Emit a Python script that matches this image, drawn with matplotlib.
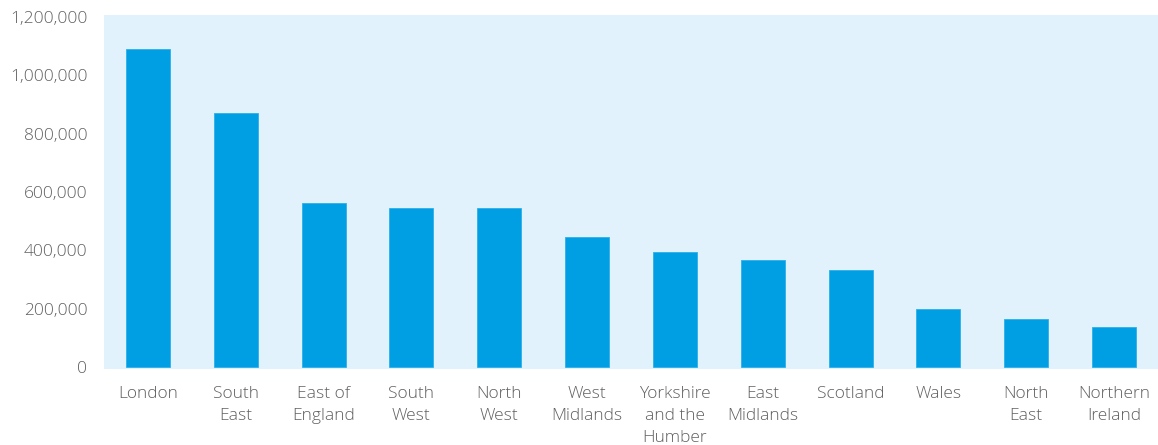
import matplotlib.pyplot as plt
from matplotlib.ticker import FuncFormatter

regions = ['London', 'South\nEast', 'East of\nEngland', 'South\nWest', 'North\nWest',
           'West\nMidlands', 'Yorkshire\nand the\nHumber', 'East\nMidlands', 'Scotland',
           'Wales', 'North\nEast', 'Northern\nIreland']
values = [1092000, 871000, 562000, 545000, 545000, 446000, 394000, 367000, 333000,
          200000, 164000, 137000]
yticks = [0, 200000, 400000, 600000, 800000, 1000000, 1200000]

bar_color = '#009FE3'
bg_color = '#E1F2FC'
text_color = '#606060'

plt.rcParams['font.family'] = ['Open Sans', 'DejaVu Sans']
plt.rcParams['font.weight'] = 'light'

fig = plt.figure(figsize=(11.58, 4.45), dpi=100)
ax = fig.add_axes([104/1158, 1 - 369/445, 1 - 104/1158, 354/445])
ax.set_facecolor(bg_color)

x = range(len(regions))
ax.bar(x, values, width=0.5, color=bar_color, edgecolor='#2BB0EA', linewidth=0.6)

ax.set_xlim(-0.5, len(regions) - 0.5)
ax.set_ylim(-7000, 1207000)
ax.set_yticks(yticks)
ax.yaxis.set_major_formatter(FuncFormatter(lambda v, p: '{:,.0f}'.format(v)))
ax.set_xticks(list(x))
ax.set_xticklabels(regions, linespacing=1.5)

ax.tick_params(axis='both', length=0, labelsize=12.5, colors=text_color)
ax.tick_params(axis='y', pad=12)
ax.tick_params(axis='x', pad=12)
for s in ax.spines.values():
    s.set_visible(False)

fig.savefig('out.png', dpi=100)
